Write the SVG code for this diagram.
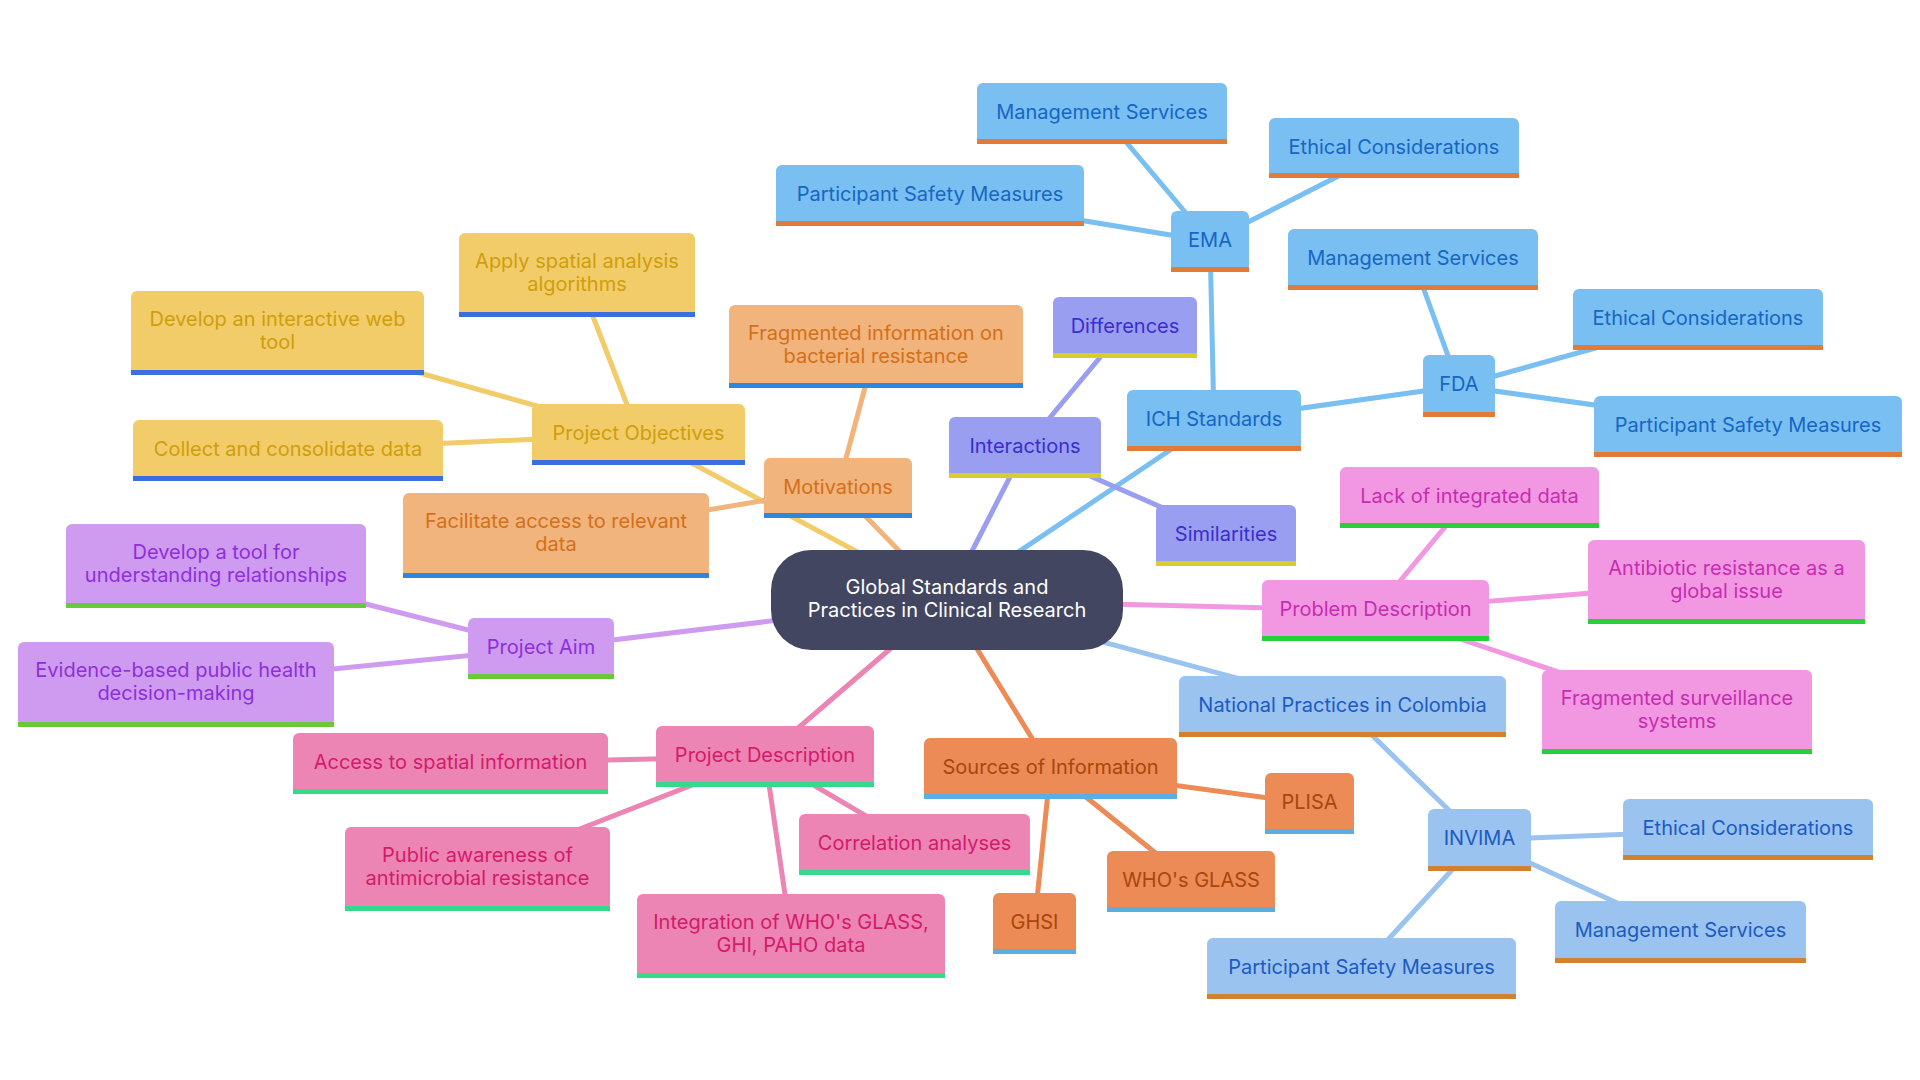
<svg xmlns="http://www.w3.org/2000/svg" width="1920" height="1080" viewBox="0 0 1920 1080">
<style>
text{font-family:Inter,"Liberation Sans",sans-serif;font-size:20px;text-anchor:middle}
#connectors line{stroke-width:5;stroke-linecap:round;fill:none}
.y .f{fill:#F2CC68}.y .b{fill:#3B6FE0}.y text{fill:#CF9E0C}.cy{stroke:#F2CC68}
.o .f{fill:#F0B47C}.o .b{fill:#2F86DE}.o text{fill:#D4701A}.co{stroke:#F0B47C}
.p .f{fill:#CE9BF0}.p .b{fill:#6AC93A}.p text{fill:#8E2FDB}.cp{stroke:#CE9BF0}
.k .f{fill:#EC85B3}.k .b{fill:#34D98A}.k text{fill:#D41A6A}.ck{stroke:#EC85B3}
.s .f{fill:#EC8B55}.s .b{fill:#5AAEE0}.s text{fill:#A8460E}.cs{stroke:#EC8B55}
.bl .f{fill:#79BFF1}.bl .b{fill:#E07C38}.bl text{fill:#1666C5}.cb{stroke:#79BFF1}
.v .f{fill:#9A9EF1}.v .b{fill:#D9CD2A}.v text{fill:#3A2DCF}.cv{stroke:#9A9EF1}
.q .f{fill:#F298E2}.q .b{fill:#25D03D}.q text{fill:#C72DB0}.cq{stroke:#F298E2}
.n .f{fill:#9AC3EF}.n .b{fill:#D0822E}.n text{fill:#1C5BC2}.cn{stroke:#9AC3EF}
</style>
<rect width="1920" height="1080" fill="#ffffff"/>
<g id="connectors">
<line class="cy" x1="947" y1="600" x2="638.5" y2="434.5"/>
<line class="cy" x1="638.5" y1="434.5" x2="577" y2="275"/>
<line class="cy" x1="638.5" y1="434.5" x2="277.5" y2="333"/>
<line class="cy" x1="638.5" y1="434.5" x2="288" y2="450.5"/>
<line class="co" x1="947" y1="600" x2="838" y2="488"/>
<line class="co" x1="838" y1="488" x2="876" y2="346.5"/>
<line class="co" x1="838" y1="488" x2="556" y2="535.5"/>
<line class="cp" x1="947" y1="600" x2="541" y2="648.5"/>
<line class="cp" x1="541" y1="648.5" x2="216" y2="566"/>
<line class="cp" x1="541" y1="648.5" x2="176" y2="684.5"/>
<line class="ck" x1="947" y1="600" x2="765" y2="756.5"/>
<line class="ck" x1="765" y1="756.5" x2="450.5" y2="763.5"/>
<line class="ck" x1="765" y1="756.5" x2="477.5" y2="869"/>
<line class="ck" x1="765" y1="756.5" x2="791" y2="936"/>
<line class="ck" x1="765" y1="756.5" x2="914.5" y2="844.5"/>
<line class="cs" x1="947" y1="600" x2="1050.5" y2="768.5"/>
<line class="cs" x1="1050.5" y1="768.5" x2="1309.5" y2="803.5"/>
<line class="cs" x1="1050.5" y1="768.5" x2="1191" y2="881.5"/>
<line class="cs" x1="1050.5" y1="768.5" x2="1034.5" y2="923.5"/>
<line class="cb" x1="947" y1="600" x2="1214" y2="420.5"/>
<line class="cb" x1="1214" y1="420.5" x2="1210" y2="241.5"/>
<line class="cb" x1="1210" y1="241.5" x2="1102" y2="113.5"/>
<line class="cb" x1="1210" y1="241.5" x2="930" y2="195.5"/>
<line class="cb" x1="1210" y1="241.5" x2="1393.5" y2="148"/>
<line class="cb" x1="1214" y1="420.5" x2="1459" y2="386"/>
<line class="cb" x1="1459" y1="386" x2="1413" y2="259.5"/>
<line class="cb" x1="1459" y1="386" x2="1698" y2="319.5"/>
<line class="cb" x1="1459" y1="386" x2="1748" y2="426.5"/>
<line class="cv" x1="947" y1="600" x2="1025" y2="447.5"/>
<line class="cv" x1="1025" y1="447.5" x2="1125" y2="327.5"/>
<line class="cv" x1="1025" y1="447.5" x2="1226" y2="535.5"/>
<line class="cq" x1="947" y1="600" x2="1375.5" y2="610.5"/>
<line class="cq" x1="1375.5" y1="610.5" x2="1469.5" y2="497.5"/>
<line class="cq" x1="1375.5" y1="610.5" x2="1726.5" y2="582"/>
<line class="cq" x1="1375.5" y1="610.5" x2="1677" y2="712"/>
<line class="cn" x1="947" y1="600" x2="1342.5" y2="706.5"/>
<line class="cn" x1="1342.5" y1="706.5" x2="1479.5" y2="840"/>
<line class="cn" x1="1479.5" y1="840" x2="1748" y2="829.5"/>
<line class="cn" x1="1479.5" y1="840" x2="1680.5" y2="932"/>
<line class="cn" x1="1479.5" y1="840" x2="1361.5" y2="968.5"/>
</g>

<g id="center">
<rect x="771" y="550" width="352" height="100" rx="40" fill="#424660"/>
<text x="947" y="594" fill="#ffffff">Global Standards and</text>
<text x="947" y="617" fill="#ffffff">Practices in Clinical Research</text>
</g>

<g id="project-objectives" class="y"><rect class="f" x="532" y="404" width="213" height="61" rx="6"/><rect class="b" x="532" y="460" width="213" height="5"/><text x="638.5" y="440">Project Objectives</text></g>
<g id="apply-spatial" class="y"><rect class="f" x="459" y="233" width="236" height="84" rx="6"/><rect class="b" x="459" y="312" width="236" height="5"/><text x="577" y="268">Apply spatial analysis</text><text x="577" y="291">algorithms</text></g>
<g id="develop-web" class="y"><rect class="f" x="131" y="291" width="293" height="84" rx="6"/><rect class="b" x="131" y="370" width="293" height="5"/><text x="277.5" y="326">Develop an interactive web</text><text x="277.5" y="349">tool</text></g>
<g id="collect" class="y"><rect class="f" x="133" y="420" width="310" height="61" rx="6"/><rect class="b" x="133" y="476" width="310" height="5"/><text x="288" y="456">Collect and consolidate data</text></g>

<g id="motivations" class="o"><rect class="f" x="764" y="458" width="148" height="60" rx="6"/><rect class="b" x="764" y="513" width="148" height="5"/><text x="838" y="494">Motivations</text></g>
<g id="fragmented-info" class="o"><rect class="f" x="729" y="305" width="294" height="83" rx="6"/><rect class="b" x="729" y="383" width="294" height="5"/><text x="876" y="340">Fragmented information on</text><text x="876" y="363">bacterial resistance</text></g>
<g id="facilitate" class="o"><rect class="f" x="403" y="493" width="306" height="85" rx="6"/><rect class="b" x="403" y="573" width="306" height="5"/><text x="556" y="528">Facilitate access to relevant</text><text x="556" y="551">data</text></g>

<g id="project-aim" class="p"><rect class="f" x="468" y="618" width="146" height="61" rx="6"/><rect class="b" x="468" y="674" width="146" height="5"/><text x="541" y="654">Project Aim</text></g>
<g id="develop-tool" class="p"><rect class="f" x="66" y="524" width="300" height="84" rx="6"/><rect class="b" x="66" y="603" width="300" height="5"/><text x="216" y="559">Develop a tool for</text><text x="216" y="582">understanding relationships</text></g>
<g id="evidence" class="p"><rect class="f" x="18" y="642" width="316" height="85" rx="6"/><rect class="b" x="18" y="722" width="316" height="5"/><text x="176" y="677">Evidence-based public health</text><text x="176" y="700">decision-making</text></g>

<g id="project-description" class="k"><rect class="f" x="656" y="726" width="218" height="61" rx="6"/><rect class="b" x="656" y="782" width="218" height="5"/><text x="765" y="762">Project Description</text></g>
<g id="access-spatial" class="k"><rect class="f" x="293" y="733" width="315" height="61" rx="6"/><rect class="b" x="293" y="789" width="315" height="5"/><text x="450.5" y="769">Access to spatial information</text></g>
<g id="public-awareness" class="k"><rect class="f" x="345" y="827" width="265" height="84" rx="6"/><rect class="b" x="345" y="906" width="265" height="5"/><text x="477.5" y="862">Public awareness of</text><text x="477.5" y="885">antimicrobial resistance</text></g>
<g id="integration" class="k"><rect class="f" x="637" y="894" width="308" height="84" rx="6"/><rect class="b" x="637" y="973" width="308" height="5"/><text x="791" y="929">Integration of WHO's GLASS,</text><text x="791" y="952">GHI, PAHO data</text></g>
<g id="correlation" class="k"><rect class="f" x="799" y="814" width="231" height="61" rx="6"/><rect class="b" x="799" y="870" width="231" height="5"/><text x="914.5" y="850">Correlation analyses</text></g>

<g id="sources" class="s"><rect class="f" x="924" y="738" width="253" height="61" rx="6"/><rect class="b" x="924" y="794" width="253" height="5"/><text x="1050.5" y="774">Sources of Information</text></g>
<g id="plisa" class="s"><rect class="f" x="1265" y="773" width="89" height="61" rx="6"/><rect class="b" x="1265" y="829" width="89" height="5"/><text x="1309.5" y="809">PLISA</text></g>
<g id="whos-glass" class="s"><rect class="f" x="1107" y="851" width="168" height="61" rx="6"/><rect class="b" x="1107" y="907" width="168" height="5"/><text x="1191" y="887">WHO's GLASS</text></g>
<g id="ghsi" class="s"><rect class="f" x="993" y="893" width="83" height="61" rx="6"/><rect class="b" x="993" y="949" width="83" height="5"/><text x="1034.5" y="929">GHSI</text></g>

<g id="ich" class="bl"><rect class="f" x="1127" y="390" width="174" height="61" rx="6"/><rect class="b" x="1127" y="446" width="174" height="5"/><text x="1214" y="426">ICH Standards</text></g>
<g id="ema" class="bl"><rect class="f" x="1171" y="211" width="78" height="61" rx="6"/><rect class="b" x="1171" y="267" width="78" height="5"/><text x="1210" y="247">EMA</text></g>
<g id="ema-management" class="bl"><rect class="f" x="977" y="83" width="250" height="61" rx="6"/><rect class="b" x="977" y="139" width="250" height="5"/><text x="1102" y="119">Management Services</text></g>
<g id="ema-safety" class="bl"><rect class="f" x="776" y="165" width="308" height="61" rx="6"/><rect class="b" x="776" y="221" width="308" height="5"/><text x="930" y="201">Participant Safety Measures</text></g>
<g id="ema-ethical" class="bl"><rect class="f" x="1269" y="118" width="250" height="60" rx="6"/><rect class="b" x="1269" y="173" width="250" height="5"/><text x="1394" y="154">Ethical Considerations</text></g>
<g id="fda" class="bl"><rect class="f" x="1423" y="355" width="72" height="62" rx="6"/><rect class="b" x="1423" y="412" width="72" height="5"/><text x="1459" y="391">FDA</text></g>
<g id="fda-management" class="bl"><rect class="f" x="1288" y="229" width="250" height="61" rx="6"/><rect class="b" x="1288" y="285" width="250" height="5"/><text x="1413" y="265">Management Services</text></g>
<g id="fda-ethical" class="bl"><rect class="f" x="1573" y="289" width="250" height="61" rx="6"/><rect class="b" x="1573" y="345" width="250" height="5"/><text x="1698" y="325">Ethical Considerations</text></g>
<g id="fda-safety" class="bl"><rect class="f" x="1594" y="396" width="308" height="61" rx="6"/><rect class="b" x="1594" y="452" width="308" height="5"/><text x="1748" y="432">Participant Safety Measures</text></g>

<g id="interactions" class="v"><rect class="f" x="949" y="417" width="152" height="61" rx="6"/><rect class="b" x="949" y="473" width="152" height="5"/><text x="1025" y="453">Interactions</text></g>
<g id="differences" class="v"><rect class="f" x="1053" y="297" width="144" height="61" rx="6"/><rect class="b" x="1053" y="353" width="144" height="5"/><text x="1125" y="333">Differences</text></g>
<g id="similarities" class="v"><rect class="f" x="1156" y="505" width="140" height="61" rx="6"/><rect class="b" x="1156" y="561" width="140" height="5"/><text x="1226" y="541">Similarities</text></g>

<g id="problem-description" class="q"><rect class="f" x="1262" y="580" width="227" height="61" rx="6"/><rect class="b" x="1262" y="636" width="227" height="5"/><text x="1375.5" y="616">Problem Description</text></g>
<g id="lack-data" class="q"><rect class="f" x="1340" y="467" width="259" height="61" rx="6"/><rect class="b" x="1340" y="523" width="259" height="5"/><text x="1469.5" y="503">Lack of integrated data</text></g>
<g id="antibiotic" class="q"><rect class="f" x="1588" y="540" width="277" height="84" rx="6"/><rect class="b" x="1588" y="619" width="277" height="5"/><text x="1726.5" y="575">Antibiotic resistance as a</text><text x="1726.5" y="598">global issue</text></g>
<g id="fragmented-surveillance" class="q"><rect class="f" x="1542" y="670" width="270" height="84" rx="6"/><rect class="b" x="1542" y="749" width="270" height="5"/><text x="1677" y="705">Fragmented surveillance</text><text x="1677" y="728">systems</text></g>

<g id="national" class="n"><rect class="f" x="1179" y="676" width="327" height="61" rx="6"/><rect class="b" x="1179" y="732" width="327" height="5"/><text x="1342.5" y="712">National Practices in Colombia</text></g>
<g id="invima" class="n"><rect class="f" x="1428" y="809" width="103" height="62" rx="6"/><rect class="b" x="1428" y="866" width="103" height="5"/><text x="1479.5" y="845">INVIMA</text></g>
<g id="invima-ethical" class="n"><rect class="f" x="1623" y="799" width="250" height="61" rx="6"/><rect class="b" x="1623" y="855" width="250" height="5"/><text x="1748" y="835">Ethical Considerations</text></g>
<g id="invima-management" class="n"><rect class="f" x="1555" y="901" width="251" height="62" rx="6"/><rect class="b" x="1555" y="958" width="251" height="5"/><text x="1680.5" y="937">Management Services</text></g>
<g id="invima-safety" class="n"><rect class="f" x="1207" y="938" width="309" height="61" rx="6"/><rect class="b" x="1207" y="994" width="309" height="5"/><text x="1361.5" y="974">Participant Safety Measures</text></g>
</svg>
